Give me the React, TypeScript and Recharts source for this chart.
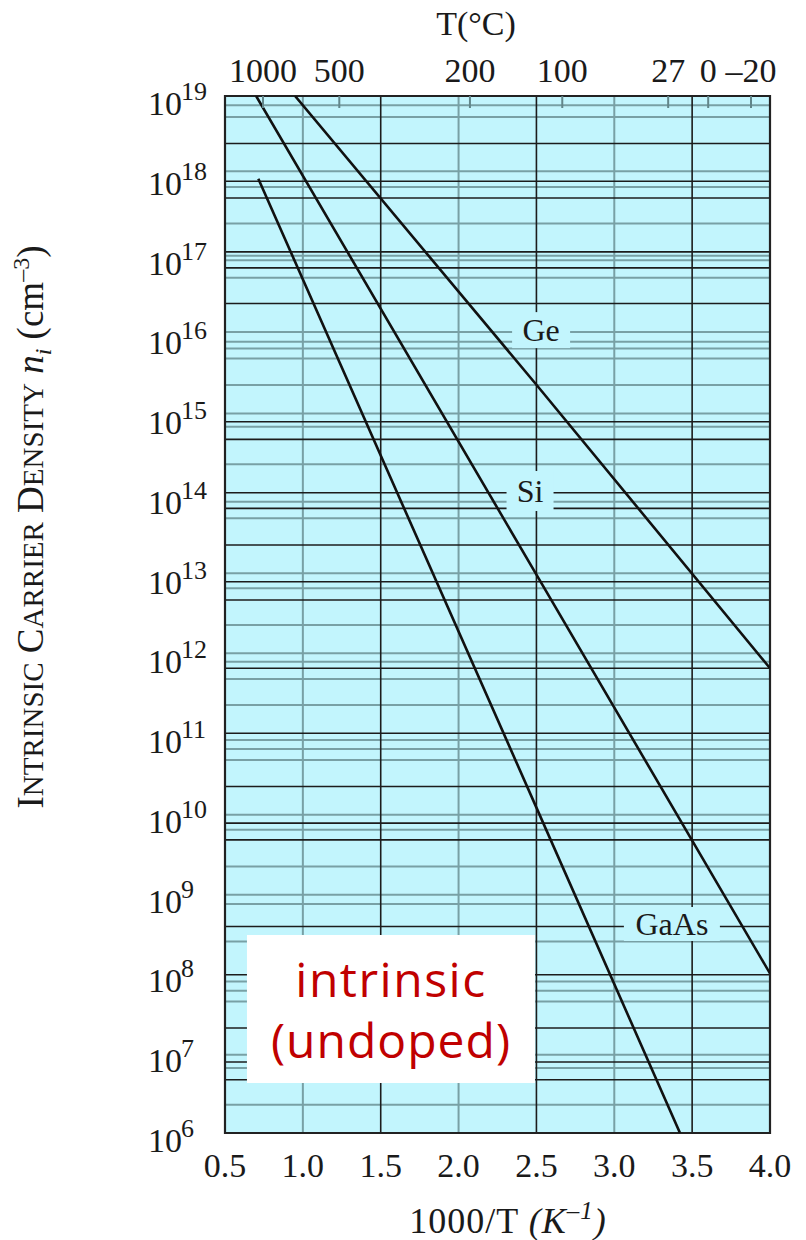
import {
  LineChart,
  Line,
  XAxis,
  YAxis,
  CartesianGrid,
  ReferenceArea,
  ReferenceDot,
} from 'recharts';

// 1000/T (K^-1) と真性キャリア密度 ni (cm^-3)
const geInvT = [0.95, 2.5, 4.0];
const geDensity = [1e19, 2.4e15, 6.7e11];
const siInvT = [0.7, 2.5, 4.0];
const siDensity = [1e19, 1e13, 1e8];
const gaasInvT = [0.714, 2.5, 3.422];
const gaasDensity = [9.2e17, 1.2e10, 1e6];

const xTicks = [0.5, 1.0, 1.5, 2.0, 2.5, 3.0, 3.5, 4.0];
const xTickLabels = ['0.5', '1.0', '1.5', '2.0', '2.5', '3.0', '3.5', '4.0'];
const yTickExponents = [6, 7, 8, 9, 10, 11, 12, 13, 14, 15, 16, 17, 18, 19];

// top axis: T(°C), tick positions on the 1000/T scale as drawn
const tempTickPos = [0.744, 1.234, 2.073, 2.666, 3.346, 3.603, 3.878];
const tempTickLabels = ['1000', '500', '200', '100', '27', '0', '\u201320'];

// grid lines as drawn in the figure (log10 of ni for horizontal ones)
const gridDarkX = [1.5, 2.5, 3.5];
const gridLightX = [1.0, 2.0, 3.0];
const gridDarkExp = [
  18.404, 17.931, 17.722, 17.046, 16.845, 16.399, 14.916, 14.695, 14.026, 13.831,
  13.371, 12.911, 12.682, 11.826, 11.012, 10.343, 9.885, 9.675, 8.589, 7.984,
  7.316, 6.89, 6.668,
];
const gridLightExp = [
  18.883, 18.737, 18.057, 17.86, 17.401, 16.996, 16.942, 16.72, 16.043, 15.918,
  15.835, 15.71, 15.376, 15.021, 14.853, 14.382, 13.914, 13.706, 13.017, 12.829,
  12.369, 12.014, 11.909, 11.692, 11.367, 10.928, 10.815, 10.677, 9.989, 9.801,
  9.341, 8.986, 8.87, 8.401, 7.9, 7.784, 7.649, 6.982, 6.815, 6.355,
];

const curveNames = ['Ge', 'Si', 'GaAs'];
const curveLabelX = [2.53, 2.459, 3.37];
const curveLabelExp = [16.065, 14.048, 8.62];

const noteLines = ['intrinsic', '(undoped)'];
const noteX = [0.641, 2.491];
const noteExp = [6.627, 8.482];

const SERIF = '"Liberation Serif", "Times New Roman", serif';
const INK = '#1a1a1a';
const labelBox: Record<string, { w: number; h: number }> = {
  Ge: { w: 58, h: 36 },
  Si: { w: 47, h: 40 },
  GaAs: { w: 96, h: 34 },
};

const toSeries = (xs: number[], ys: number[]) => xs.map((x, i) => ({ x, n: ys[i] }));
// GaAs is hooked to the top axis (same domain) so that axis gets its ticks
const series = [
  { name: 'Ge', data: toSeries(geInvT, geDensity), axis: 0 as number | string },
  { name: 'Si', data: toSeries(siInvT, siDensity), axis: 0 as number | string },
  { name: 'GaAs', data: toSeries(gaasInvT, gaasDensity), axis: 'top' as number | string },
];

// axis is 1px wide: tick x = plot left
const PowerTick = ({ x, y, payload }: any) => {
  const exp = Math.round(Math.log10(payload.value));
  return (
    <g fontFamily={SERIF} fill={INK}>
      <text x={x - 77} y={y + 19} fontSize={34}>
        10
      </text>
      <text x={x - 44} y={y + 4} fontSize={26}>
        {exp}
      </text>
    </g>
  );
};

const BottomTick = ({ x, y, payload }: any) => {
  const i = xTicks.indexOf(payload.value);
  return (
    <text x={x} y={y + 44} textAnchor="middle" fontSize={34} fontFamily={SERIF} fill={INK}>
      {xTickLabels[i]}
    </text>
  );
};

const TempTick = ({ x, y, payload }: any) => {
  const i = tempTickPos.indexOf(payload.value);
  return (
    <text x={x} y={y - 26} textAnchor="middle" fontSize={34} fontFamily={SERIF} fill={INK}>
      {tempTickLabels[i]}
    </text>
  );
};

const TempTitle = ({ viewBox }: any) => (
  <text x={viewBox.x + 251} y={viewBox.y - 60} textAnchor="middle" fontSize={34} fontFamily={SERIF} fill={INK}>
    T(°C)
  </text>
);

const XTitle = ({ viewBox }: any) => (
  <text
    x={viewBox.x + 283}
    y={viewBox.y + 100}
    textAnchor="middle"
    fontSize={36}
    letterSpacing={1}
    fontFamily={SERIF}
    fill={INK}
  >
    1000/T{' '}
    <tspan fontStyle="italic">(K</tspan>
    <tspan fontStyle="italic" fontSize={25} dy={-14}>
      {'\u2013'}1
    </tspan>
    <tspan fontStyle="italic" dy={14}>
      )
    </tspan>
  </text>
);

const YTitle = ({ viewBox }: any) => {
  const cx = viewBox.x + viewBox.width - 182;
  const cy = 527;
  const big = 37;
  const small = 29;
  return (
    <text
      x={cx}
      y={cy}
      transform={`rotate(-90 ${cx} ${cy})`}
      textAnchor="middle"
      fontFamily={SERIF}
      fill={INK}
      fontSize={big}
    >
      I<tspan fontSize={small}>NTRINSIC</tspan> C<tspan fontSize={small}>ARRIER</tspan> D
      <tspan fontSize={small}>ENSITY</tspan> <tspan fontStyle="italic">n</tspan>
      <tspan fontStyle="italic" fontSize={24} dy={8}>
        i
      </tspan>
      <tspan dy={-8}> (cm</tspan>
      <tspan fontSize={24} dy={-14}>
        {'\u2013'}3
      </tspan>
      <tspan dy={14}>)</tspan>
    </text>
  );
};

const NoteText = ({ viewBox }: any) => {
  const cx = viewBox.x + viewBox.width / 2;
  return (
    <g fontFamily='"Comic Sans MS", "Open Sans", sans-serif' fill="#c00000" fontSize={48} textAnchor="middle">
      <text x={cx} y={viewBox.y + 62} letterSpacing={1.5}>
        {noteLines[0]}
      </text>
      <text x={cx} y={viewBox.y + 123} letterSpacing={1}>
        {noteLines[1]}
      </text>
    </g>
  );
};

const CurveLabel = (name: string) => (props: any) => {
  const { cx, cy } = props;
  const b = labelBox[name];
  return (
    <g>
      <rect x={cx - b.w / 2} y={cy - b.h / 2} width={b.w} height={b.h} fill="#c2f5fd" />
      <text x={cx} y={cy + 11} textAnchor="middle" fontSize={32} fontFamily={SERIF} fill={INK}>
        {name}
      </text>
    </g>
  );
};

const App = () => {
  return (
    <div style={{ position: 'absolute', left: 0, top: 0, width: 806, height: 1240, background: '#fff' }}>
      <LineChart width={806} height={1240} margin={{ top: 95, right: 36, bottom: 106, left: 224 }}>
        <CartesianGrid
          fill="#c2f5fd"
          stroke="#78a0a5"
          strokeWidth={2}
          verticalValues={gridLightX}
          horizontalValues={gridLightExp.map((e) => 10 ** e)}
        />
        <CartesianGrid
          stroke="#1c1c1c"
          strokeWidth={1.6}
          verticalValues={gridDarkX}
          horizontalValues={gridDarkExp.map((e) => 10 ** e)}
        />
        <XAxis
          xAxisId={0}
          type="number"
          dataKey="x"
          domain={[0.5, 4.0]}
          ticks={xTicks}
          allowDataOverflow
          height={1}
          axisLine={false}
          tickLine={false}
          tickSize={0}
          tickMargin={0}
          interval={0}
          tick={<BottomTick />}
          label={<XTitle />}
        />
        <XAxis
          xAxisId="top"
          orientation="top"
          type="number"
          dataKey="x"
          domain={[0.5, 4.0]}
          ticks={tempTickPos}
          allowDataOverflow
          height={1}
          axisLine={false}
          tickLine={{ stroke: '#62868a', strokeWidth: 2 }}
          tickSize={-12}
          tickMargin={0}
          interval={0}
          tick={<TempTick />}
          label={<TempTitle />}
        />
        <YAxis
          scale="log"
          type="number"
          domain={[1e6, 1e19]}
          ticks={yTickExponents.map((e) => 10 ** e)}
          allowDataOverflow
          width={1}
          axisLine={false}
          tickLine={false}
          tickSize={0}
          tickMargin={0}
          interval={0}
          tick={<PowerTick />}
          label={<YTitle />}
        />
        <ReferenceArea
          x1={noteX[0]}
          x2={noteX[1]}
          y1={10 ** noteExp[0]}
          y2={10 ** noteExp[1]}
          fill="#ffffff"
          fillOpacity={1}
          stroke="none"
          label={<NoteText />}
        />
        <ReferenceArea
          x1={0.5}
          x2={4.0}
          y1={1e6}
          y2={1e19}
          fill="none"
          stroke="#222"
          strokeWidth={2.2}
          ifOverflow="visible"
        />
        {series.map((s) => (
          <Line
            key={s.name}
            xAxisId={s.axis}
            data={s.data}
            dataKey="n"
            type="linear"
            stroke="#111"
            strokeWidth={2.6}
            dot={false}
            activeDot={false}
            isAnimationActive={false}
          />
        ))}
        {curveNames.map((name, i) => (
          <ReferenceDot
            key={name}
            x={curveLabelX[i]}
            y={10 ** curveLabelExp[i]}
            r={1}
            shape={CurveLabel(name)}
          />
        ))}
      </LineChart>
    </div>
  );
};

export default App;
